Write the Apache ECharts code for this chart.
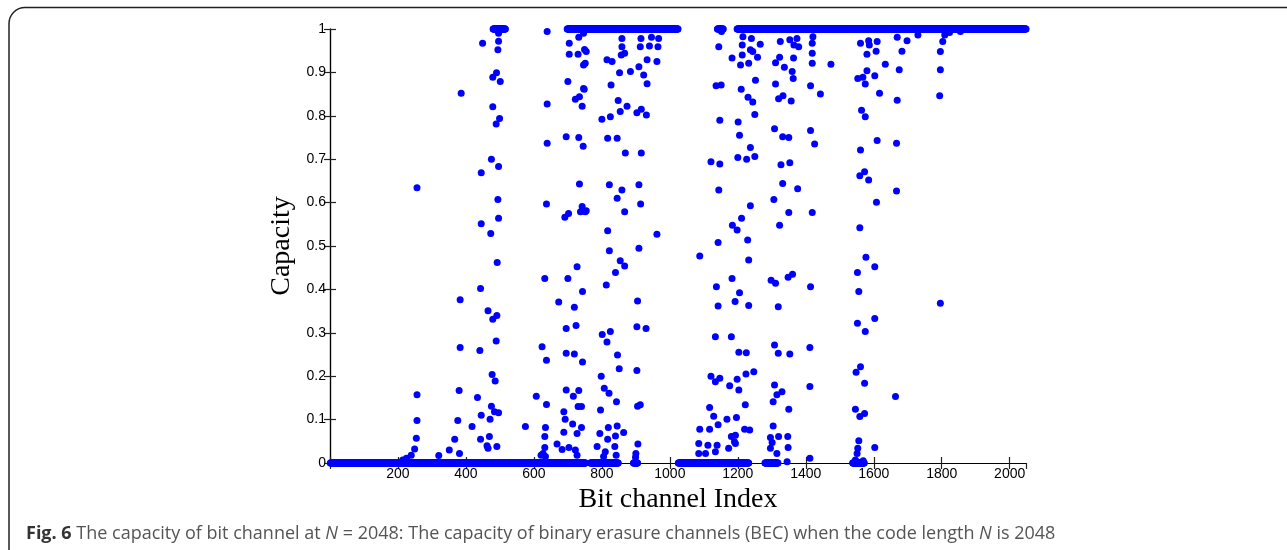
<!DOCTYPE html>
<html>
<head>
<meta charset="utf-8">
<script src="https://cdn.jsdelivr.net/npm/echarts@6/dist/echarts.min.js"></script>
<style>
html,body{margin:0;padding:0;background:#fff;}
#c{width:1287px;height:550px;}
</style>
</head>
<body>
<div id="c"></div>
<script>
// Index ranges whose capacity sits on 0 or on 1 (dense lines of dots)
var zeroRuns = [[1,752],[766,848],[893,905],[1025,1232],[1280,1318],[1538,1572]];
var oneRuns = [[480,516],[698,1024],[1140,1157],[1198,2048]];

// Individual intermediate points [bit channel index, capacity]
var cluster1 = [[214,0.007],[225,0.011],[239,0.018],[249,0.032],[254,0.057],[256,0.098],[256,0.157],[256,0.634],
[320,0.017],[351,0.030],[367,0.055],[376,0.098],[380,0.167],[381,0.022],[383,0.266],[383,0.376],[386,0.852],
[418,0.084],[434,0.151],[441,0.259],[443,0.402],[445,0.110],[443,0.055],[445,0.551],[445,0.669],[449,0.967],
[462,0.040],[465,0.351],[465,0.034],[469,0.061],[471,0.101],[473,0.529],[475,0.700],[475,0.131],[477,0.204],
[479,0.331],[479,0.821],[479,0.889],[484,0.118],[486,0.189],[489,0.281],[489,0.781],[490,0.899],[491,0.340],[491,0.038],
[492,0.462],[494,0.607],[494,0.952],[496,0.564],[496,0.683],[496,0.972],[496,0.116],[496,0.990],[499,0.794],[501,0.879]];

var cluster2 = [[575,0.084],[607,0.154],[621,0.018],[624,0.268],[627,0.022],[632,0.425],[632,0.061],[632,0.036],[634,0.082],[634,0.015],[637,0.237],[637,0.135],[637,0.597],[639,0.737],[639,0.827],[639,0.994],
[668,0.044],[673,0.371],[683,0.031],[688,0.118],[688,0.071],[691,0.566],[692,0.101],[695,0.310],[695,0.253],[695,0.168],[695,0.752],[700,0.425],[700,0.879],[702,0.575],[703,0.036],[704,0.942],[704,0.967],[707,0.999],
[714,0.090],[716,0.154],[719,0.251],[719,0.359],[722,0.838],[722,0.030],[724,0.317],[727,0.452],[727,0.068],[727,0.018],[730,0.130],[730,0.942],[732,0.167],[732,0.981],[732,0.750],[734,0.643],[734,0.844],[737,0.579],[740,0.130],[740,0.082],[742,0.822],[742,0.591],[743,0.395],[743,0.233],[745,0.730],[746,0.990],[746,0.863],[746,0.917],[748,0.861],[749,0.953],[751,0.579],[751,0.921],[754,0.948],[754,0.581],
[786,0.038],[794,0.068],[796,0.122],[798,0.200],[800,0.792],[801,0.296],[805,0.015],[807,0.172],[810,0.026],[813,0.410],[815,0.929],[815,0.279],[817,0.748],[817,0.535],[817,0.055],[819,0.082],[821,0.161],[822,0.641],[822,0.489],[825,0.303],[825,0.798],[827,0.871],[830,0.925],
[838,0.038],[840,0.439],[840,0.062],[842,0.018],[843,0.141],[845,0.748],[845,0.610],[845,0.085],[846,0.249],[848,0.835],[851,0.217],[852,0.899],[854,0.466],[854,0.810],[857,0.940],[859,0.629],[859,0.959],[859,0.978],[864,0.070],[867,0.579],[867,0.454],[867,0.944],[869,0.714],[874,0.822],[884,0.902],
[899,0.013],[900,0.022],[903,0.213],[903,0.314],[903,0.807],[905,0.131],[905,0.373],[906,0.044],[909,0.495],[909,0.641],[909,0.913],[913,0.134],[913,0.959],[914,0.597],[915,0.978],[916,0.714],[916,0.815],[923,0.894],[930,0.310],[931,0.802],[933,0.874],[933,0.929],[940,0.961],[946,0.981],[962,0.925],[962,0.527],[965,0.959],[967,0.978]];

var cluster3 = [[1085,0.045],[1085,0.022],[1088,0.477],[1088,0.078],[1105,0.022],[1112,0.041],[1117,0.078],[1117,0.128],[1121,0.200],[1121,0.694],[1129,0.108],[1134,0.187],[1134,0.291],[1134,0.026],[1136,0.869],[1137,0.406],[1139,0.041],[1142,0.088],[1142,0.362],[1142,0.508],[1144,0.629],[1144,0.959],[1147,0.195],[1147,0.689],[1147,0.790],[1151,0.871],[1152,0.994],
[1168,0.101],[1173,0.034],[1176,0.178],[1181,0.061],[1181,0.291],[1183,0.425],[1183,0.933],[1184,0.548],[1190,0.049],[1192,0.372],[1193,0.045],[1193,0.064],[1196,0.105],[1198,0.193],[1198,0.537],[1200,0.704],[1201,0.786],[1203,0.168],[1203,0.255],[1205,0.392],[1205,0.755],[1208,0.917],[1210,0.861],[1211,0.564],[1213,0.963],[1213,0.940],[1215,0.982],
[1220,0.078],[1222,0.134],[1224,0.205],[1225,0.254],[1226,0.700],[1229,0.514],[1230,0.843],[1232,0.468],[1232,0.363],[1232,0.921],[1235,0.076],[1237,0.727],[1237,0.593],[1237,0.952],[1240,0.978],[1244,0.832],[1244,0.948],[1247,0.210],[1250,0.706],[1250,0.803],[1252,0.882],[1258,0.935],[1266,0.965],
[1296,0.059],[1296,0.034],[1298,0.421],[1301,0.047],[1304,0.141],[1304,0.085],[1306,0.607],[1308,0.770],[1308,0.272],[1308,0.180],[1311,0.922],[1311,0.873],[1311,0.414],[1315,0.157],[1315,0.022],[1319,0.360],[1319,0.253],[1320,0.839],[1320,0.061],[1323,0.935],[1323,0.548],[1325,0.971],[1327,0.687],[1330,0.164],[1332,0.752],[1332,0.644],[1333,0.846],[1337,0.912],[1345,0.003],[1347,0.061],[1348,0.428],[1348,0.036],[1350,0.750],[1350,0.577],[1350,0.124],[1353,0.692],[1353,0.251],[1353,0.975],[1357,0.834],[1360,0.902],[1361,0.435],[1363,0.886],[1364,0.933],[1365,0.963],[1374,0.978],[1376,0.632],[1379,0.959],
[1412,0.266],[1412,0.176],[1412,0.011],[1414,0.869],[1414,0.766],[1414,0.406],[1419,0.577],[1419,0.921],[1419,0.944],[1419,0.967],[1421,0.982],[1426,0.735],[1443,0.850],[1474,0.919]];

var cluster4 = [[1546,0.124],[1546,0.007],[1548,0.209],[1551,0.022],[1552,0.322],[1552,0.439],[1553,0.034],[1553,0.886],[1556,0.051],[1556,0.395],[1559,0.107],[1559,0.542],[1559,0.662],[1561,0.222],[1561,0.721],[1561,0.967],[1564,0.813],[1568,0.889],[1569,0.005],[1573,0.184],[1573,0.114],[1573,0.671],[1575,0.303],[1575,0.798],[1575,0.873],[1577,0.474],[1580,0.904],[1580,0.942],[1585,0.652],[1585,0.973],[1587,0.963],
[1603,0.333],[1603,0.036],[1603,0.452],[1603,0.892],[1607,0.949],[1608,0.601],[1610,0.743],[1610,0.971],[1617,0.852],[1634,0.919],[1664,0.153],[1667,0.627],[1667,0.737],[1669,0.836],[1669,0.981],[1675,0.906],[1683,0.949],[1698,0.973],[1730,0.986],
[1794,0.846],[1796,0.368],[1796,0.906],[1796,0.948],[1803,0.971],[1809,0.986],[1823,0.992],[1855,0.994]];

var xTickValues = [200,400,600,800,1000,1200,1400,1600,1800,2000];

function expandRuns(runs, value) {
  var out = [];
  runs.forEach(function (r) {
    for (var i = r[0]; i <= r[1]; i++) out.push([i, value]);
  });
  return out;
}

var allData = expandRuns(zeroRuns, 0)
  .concat(expandRuns(oneRuns, 1))
  .concat(cluster1, cluster2, cluster3, cluster4);

var chart = echarts.init(document.getElementById('c'), null, {renderer: 'canvas'});

var tickFont = {color: '#000', fontFamily: 'Liberation Sans, Arial, sans-serif', fontSize: 14};
var lineStyle = {color: '#000', width: 1.2};
var tickStyle = {color: '#222', width: 1.2};

var option = {
  animation: false,
  backgroundColor: '#fff',
  grid: {left: 330, top: 29, width: 696, height: 434, show: false},
  xAxis: [{
    type: 'value', min: 0, max: 2048, interval: 200, position: 'bottom',
    axisLine: {show: true, lineStyle: lineStyle},
    axisTick: {show: true, inside: true, length: 6, lineStyle: tickStyle},
    axisLabel: Object.assign({margin: 4, showMaxLabel: false,
      formatter: function (v) { return xTickValues.indexOf(v) >= 0 ? String(v) : ''; }}, tickFont),
    splitLine: {show: false},
    name: 'Bit channel Index', nameLocation: 'middle', nameGap: 20,
    nameTextStyle: {fontFamily: 'Liberation Serif, Times New Roman, serif', fontSize: 28, color: '#000'}
  }, {
    type: 'value', min: 0, max: 2048, interval: 200, position: 'top',
    axisLine: {show: true, lineStyle: lineStyle},
    axisTick: {show: true, inside: true, length: 6, lineStyle: tickStyle},
    axisLabel: {show: false}, splitLine: {show: false}
  }],
  yAxis: [{
    type: 'value', min: 0, max: 1, interval: 0.1, position: 'left',
    axisLine: {show: true, lineStyle: lineStyle},
    axisTick: {show: true, inside: true, length: 6, lineStyle: tickStyle},
    axisLabel: Object.assign({margin: 4}, tickFont),
    splitLine: {show: false},
    name: 'Capacity', nameLocation: 'middle', nameGap: 29,
    nameTextStyle: {fontFamily: 'Liberation Serif, Times New Roman, serif', fontSize: 28, color: '#000'}
  }, {
    type: 'value', min: 0, max: 1, interval: 0.1, position: 'right',
    axisLine: {show: true, lineStyle: lineStyle},
    axisTick: {show: true, inside: true, length: 6, lineStyle: tickStyle},
    axisLabel: {show: false}, splitLine: {show: false}
  }],
  series: [{
    type: 'scatter',
    xAxisIndex: 0, yAxisIndex: 0,
    data: allData,
    symbol: 'circle',
    symbolSize: 7,
    clip: false,
    progressive: 0,
    z: 5,
    itemStyle: {color: '#0000ff', opacity: 1},
    emphasis: {disabled: true}
  }],
  graphic: [{
    type: 'rect',
    silent: true,
    shape: {x: 9, y: 7.5, width: 1400, height: 700, r: 16},
    style: {fill: 'none', stroke: '#222', lineWidth: 1.5}
  }, {
    type: 'text',
    left: 26, top: 525,
    silent: true,
    style: {
      text: '{b|Fig. 6} The capacity of bit channel at {i|N} = 2048: The capacity of binary erasure channels (BEC) when the code length {i|N} is 2048',
      fontFamily: 'Open Sans, sans-serif',
      fontSize: 18,
      fill: '#555',
      rich: {
        b: {fontFamily: 'Open Sans, sans-serif', fontSize: 18, fontWeight: 'bold', fill: '#333', color: '#333'},
        i: {fontFamily: 'Open Sans, sans-serif', fontSize: 18, fontStyle: 'italic', fill: '#555', color: '#555'}
      }
    }
  }]
};
chart.setOption(option);
</script>
</body>
</html>
